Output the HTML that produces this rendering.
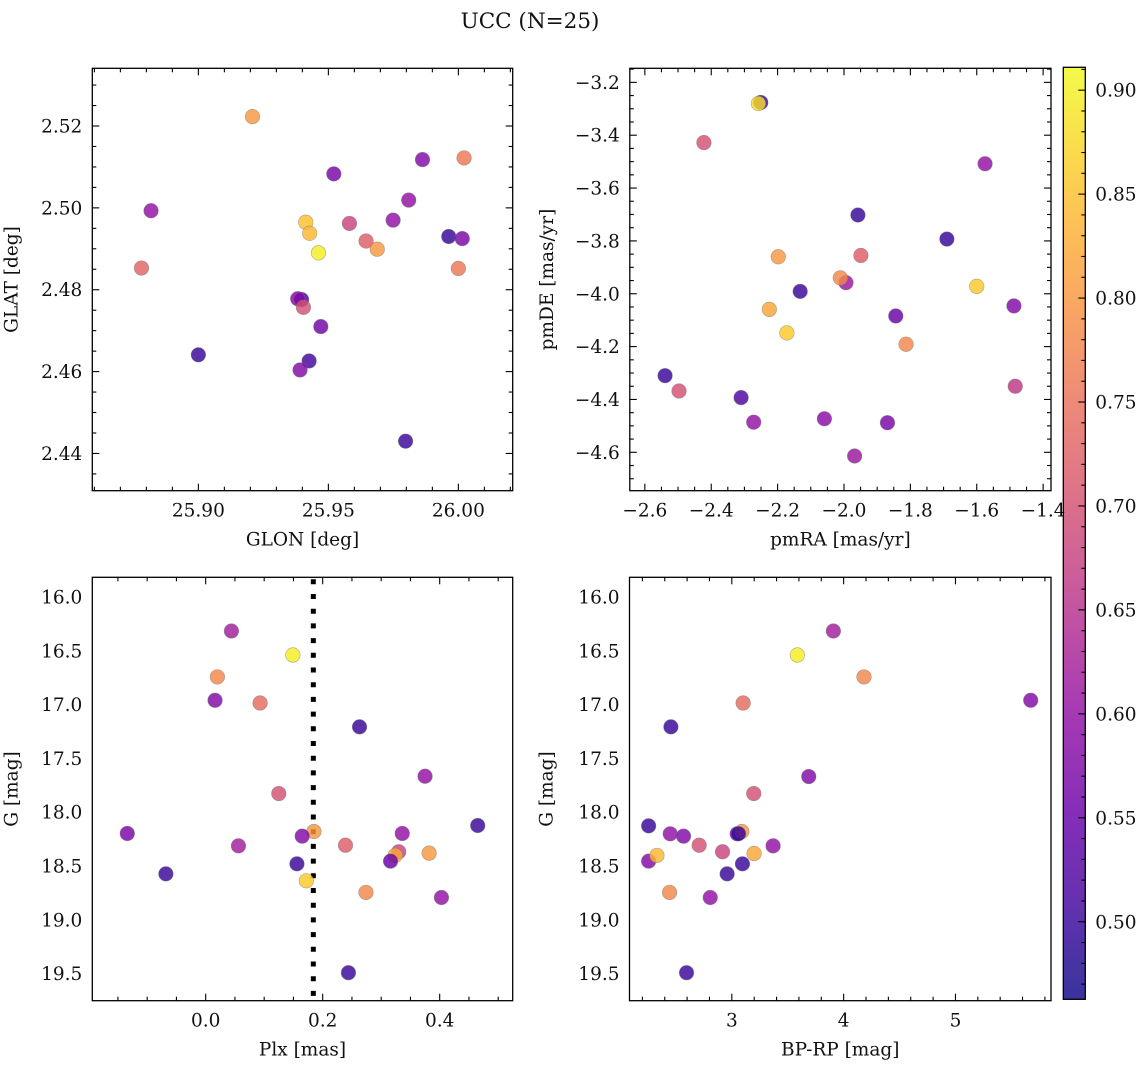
<!DOCTYPE html>
<html><head><meta charset="utf-8"><style>
html,body{margin:0;padding:0;background:#fff;}
svg{display:block;font-family:"DejaVu Serif","Liberation Serif",serif;}
</style></head><body>
<svg id="fig" width="1148" height="1067" viewBox="0 0 1148 1067" xmlns="http://www.w3.org/2000/svg">
<rect width="1148" height="1067" fill="#fff"/>
<text x="530" y="28" font-size="21.5" text-anchor="middle" fill="#111">UCC (N=25)</text>
<defs>
<linearGradient id="cbgrad" x1="0" y1="1" x2="0" y2="0"></linearGradient>
</defs>
</svg>
<script>
// ---- Data: top-left (GLON vs GLAT) ----
const glon = [25.9208,25.8818,25.8781,25.900,25.9521,25.9413,25.9428,25.9462,25.9581,25.9645,25.9688,25.9749,25.9809,25.9862,26.0022,25.9963,26.0015,26.000,25.9397,25.9382,25.9404,25.9471,25.9426,25.9391,25.9797];
const glat = [2.5223,2.4993,2.4853,2.4641,2.5083,2.4965,2.4938,2.4890,2.4962,2.4919,2.4899,2.4970,2.5019,2.5118,2.5122,2.4930,2.4925,2.4852,2.4776,2.4778,2.4757,2.4710,2.4626,2.4604,2.4430];
const cGal = [0.80,0.60,0.73,0.50,0.57,0.85,0.84,0.90,0.68,0.72,0.80,0.60,0.60,0.58,0.76,0.50,0.57,0.76,0.52,0.58,0.70,0.56,0.51,0.58,0.50];
// ---- Data: top-right (pmRA vs pmDE) ----
const pmra = [-2.2507,-2.258,-2.422,-1.575,-1.958,-1.690,-2.198,-1.949,-1.994,-2.011,-1.600,-2.132,-2.225,-2.172,-1.488,-1.844,-1.813,-2.539,-2.497,-2.310,-1.484,-2.272,-2.059,-1.869,-1.968];
const pmde = [-3.276,-3.280,-3.428,-3.508,-3.702,-3.793,-3.860,-3.855,-3.958,-3.940,-3.972,-3.991,-4.059,-4.148,-4.046,-4.084,-4.191,-4.310,-4.368,-4.393,-4.350,-4.486,-4.473,-4.488,-4.614];
const cPm = [0.50,0.88,0.70,0.60,0.50,0.50,0.80,0.72,0.61,0.78,0.86,0.50,0.82,0.86,0.58,0.55,0.78,0.50,0.70,0.52,0.66,0.60,0.59,0.57,0.61];
// ---- Data: bottom-left (Plx vs G) ----
const plx = [0.044,0.149,0.020,0.016,0.093,0.263,0.375,0.125,0.465,-0.134,0.185,0.165,0.336,0.056,0.239,0.330,0.324,0.382,0.316,0.156,-0.068,0.172,0.274,0.403,0.244];
const gPlx = [16.316,16.539,16.743,16.960,16.985,17.207,17.666,17.827,18.124,18.198,18.180,18.223,18.198,18.313,18.307,18.368,18.402,18.381,18.455,18.480,18.573,18.638,18.746,18.793,19.492];
const cPlx = [0.62,0.90,0.78,0.58,0.74,0.50,0.60,0.70,0.50,0.57,0.80,0.58,0.60,0.62,0.72,0.68,0.82,0.80,0.55,0.50,0.50,0.86,0.78,0.60,0.50];
const plxLine = 0.184;
// ---- Data: bottom-right (BP-RP vs G) ----
const bprp = [2.256,2.256,2.330,2.455,2.449,2.568,2.443,2.595,2.708,2.807,2.917,2.958,3.048,3.089,3.095,3.101,3.196,3.199,3.369,3.586,3.688,3.908,4.182,5.673,3.060];
const gCol = [18.127,18.455,18.402,17.207,18.201,18.223,18.746,19.492,18.307,18.793,18.368,18.573,18.201,18.180,18.480,16.985,17.827,18.384,18.313,16.539,17.669,16.316,16.743,16.960,18.200];
const cCol = [0.50,0.58,0.84,0.50,0.60,0.58,0.78,0.50,0.70,0.60,0.68,0.50,0.55,0.80,0.50,0.74,0.70,0.82,0.60,0.90,0.58,0.62,0.78,0.58,0.50];
// ---- Tick labels ----
const tlXTicks = [25.90,25.95,26.00];
const tlYTicks = [2.44,2.46,2.48,2.50,2.52];
const trXTicks = [-2.6,-2.4,-2.2,-2.0,-1.8,-1.6,-1.4];
const trYTicks = [-4.6,-4.4,-4.2,-4.0,-3.8,-3.6,-3.4,-3.2];
const blXTicks = [0.0,0.2,0.4];
const gTicks = [16.0,16.5,17.0,17.5,18.0,18.5,19.0,19.5];
const brXTicks = [3,4,5];
const cbTicks = [0.50,0.55,0.60,0.65,0.70,0.75,0.80,0.85,0.90];

const NS="http://www.w3.org/2000/svg";
const svg=document.getElementById('fig');
const VMIN=0.4627, VMAX=0.911;
const FS=18.5;
const plasma=["#0d0887","#41049d","#6a00a8","#8f0da4","#b12a90","#cc4778","#e16462","#f2844b","#fca636","#fcce25","#f0f921"];
function hex(h){return [1,3,5].map(i=>parseInt(h.substr(i,2),16));}
function cmap(v){
  let t=Math.max(0,Math.min(1,(v-VMIN)/(VMAX-VMIN)))*10;
  let i=Math.min(9,Math.floor(t)),f=t-i;
  let a=hex(plasma[i]),b=hex(plasma[i+1]);
  return 'rgb('+a.map((x,k)=>Math.round(x+(b[k]-x)*f)).join(',')+')';
}
function el(tag,attrs,parent){const e=document.createElementNS(NS,tag);for(const k in attrs)e.setAttribute(k,attrs[k]);(parent||svg).appendChild(e);return e;}
function fmt(v,d){return v.toFixed(d).replace('-','\u2212');}
function lin(d0,d1,r0,r1){return v=>r0+(v-d0)/(d1-d0)*(r1-r0);}

function panel(o){
  const g=el('g',{});
  
  
  const X=lin(o.xd[0],o.xd[1],o.L,o.R), Y=lin(o.yd[0],o.yd[1],o.B,o.T);
  const tk=(x1,y1,x2,y2)=>el('line',{x1:x1,y1:y1,x2:x2,y2:y2,stroke:'#000','stroke-width':1.1},g);
  const eps=1e-9;
  for(let v=Math.ceil(o.xd[0]/o.xmin-eps)*o.xmin; v<=o.xd[1]+eps; v+=o.xmin){
    const px=X(v); const major=Math.abs(v/o.xmaj-Math.round(v/o.xmaj))<1e-6; const len=major?7:4;
    tk(px,o.B,px,o.B-len); tk(px,o.T,px,o.T+len);
  }
  for(let v=Math.ceil(o.yd[0]/o.ymin-eps)*o.ymin; v<=o.yd[1]+eps; v+=o.ymin){
    const py=Y(v); const major=Math.abs(v/o.ymaj-Math.round(v/o.ymaj))<1e-6; const len=major?7:4;
    tk(o.L,py,o.L+len,py); tk(o.R,py,o.R-len,py);
  }
  o.xt.forEach(v=>{const t=el('text',{x:X(v),y:o.B+26,'font-size':FS,'text-anchor':'middle',fill:'#111'},g);t.textContent=fmt(v,o.xdp);
    
    });
  o.yt.forEach(v=>{const t=el('text',{x:o.L-10,y:Y(v)+6.5,'font-size':FS,'text-anchor':'end',fill:'#111'},g);t.textContent=fmt(v,o.ydp);
    
    });
  const xl=el('text',{x:(o.L+o.R)/2,y:o.B+55,'font-size':FS,'text-anchor':'middle',fill:'#111'},g);xl.textContent=o.xlab;
  
  
  const yx=o.L-(o.ylabOff||75), yy=(o.T+o.B)/2;
  const yl=el('text',{x:yx,y:yy,'font-size':FS,'text-anchor':'middle',fill:'#111',transform:'rotate(-90 '+yx+' '+yy+')'},g);yl.textContent=o.ylab;
  
  
  if(o.vline!==undefined){
    const ln=el('line',{x1:X(o.vline),x2:X(o.vline),y1:o.T+2,y2:o.B,stroke:'#000','stroke-width':5,'stroke-dasharray':'5,9.7'},g);
    
    
  }
  const clip='clip-'+o.name;
  const cp=el('clipPath',{id:clip},g); el('rect',{x:o.L,y:o.T,width:o.R-o.L,height:o.B-o.T},cp);
  const pg=el('g',{'clip-path':'url(#'+clip+')'},g);
  o.xs.forEach((xv,i)=>{
    const c=el('circle',{cx:X(xv),cy:Y(o.ys[i]),r:7.3,fill:cmap(o.cs[i]),'fill-opacity':0.82,stroke:'#777','stroke-opacity':0.6,'stroke-width':0.6},pg);
    
    
  });
  const fr=el('rect',{x:o.L,y:o.T,width:o.R-o.L,height:o.B-o.T,fill:'none',stroke:'#000','stroke-width':1.3},g);
  
  
}

panel({name:'glon-glat-panel',L:92.3,R:512.7,T:68.3,B:490.7,xd:[25.8592,26.0209],yd:[2.4309,2.5341],
  xmaj:0.05,xmin:0.01,ymaj:0.02,ymin:0.005,xt:tlXTicks,yt:tlYTicks,xdp:2,ydp:2,
  xlab:'GLON [deg]',ylab:'GLAT [deg]',ylabOff:75,xs:glon,ys:glat,cs:cGal});
panel({name:'proper-motion-panel',L:629.8,R:1051,T:68.3,B:490.7,xd:[-2.6453,-1.3763],yd:[-4.7453,-3.1468],
  xmaj:0.2,xmin:0.05,ymaj:0.2,ymin:0.05,xt:trXTicks,yt:trYTicks,xdp:1,ydp:1,
  xlab:'pmRA [mas/yr]',ylab:'pmDE [mas/yr]',ylabOff:77,xs:pmra,ys:pmde,cs:cPm});
panel({name:'plx-g-panel',L:92.3,R:512.7,T:577.3,B:1000.7,xd:[-0.1938,0.5248],yd:[19.7523,15.8170],
  xmaj:0.2,xmin:0.05,ymaj:0.5,ymin:0.1,xt:blXTicks,yt:gTicks,xdp:1,ydp:1,
  xlab:'Plx [mas]',ylab:'G [mag]',ylabOff:75,xs:plx,ys:gPlx,cs:cPlx,vline:plxLine});
panel({name:'cmd-panel',L:629.5,R:1051,T:577.3,B:1000.7,xd:[2.0848,5.8545],yd:[19.7523,15.8170],
  xmaj:1,xmin:0.2,ymaj:0.5,ymin:0.1,xt:brXTicks,yt:gTicks,xdp:0,ydp:1,
  xlab:'BP-RP [mag]',ylab:'G [mag]',ylabOff:77,xs:bprp,ys:gCol,cs:cCol});

// colorbar
(function(){
  const L=1063.3,R=1085.3,T=67.3,B=999.3;
  const g=el('g',{});
  
  
  const grad=document.getElementById('cbgrad');
  for(let i=0;i<=20;i++){const v=VMIN+(VMAX-VMIN)*i/20;el('stop',{offset:(i*5)+'%','stop-color':cmap(v),'stop-opacity':0.82},grad);}
  el('rect',{x:L,y:T,width:R-L,height:B-T,fill:'url(#cbgrad)'},g);
  const Y=lin(VMIN,VMAX,B,T);
  for(let v=0.47;v<=0.9101;v+=0.01){
    const major=Math.abs(v/0.05-Math.round(v/0.05))<1e-6;
    el('line',{x1:R,x2:R-(major?7:4),y1:Y(v),y2:Y(v),stroke:'#000','stroke-width':1.1},g);
  }
  cbTicks.forEach(v=>{const t=el('text',{x:R+10,y:Y(v)+6.5,'font-size':FS,fill:'#111'},g);t.textContent=v.toFixed(2);
    
    });
  const fr=el('rect',{x:L,y:T,width:R-L,height:B-T,fill:'none',stroke:'#000','stroke-width':1.3},g);
  
  
})();
</script>
</body></html>
